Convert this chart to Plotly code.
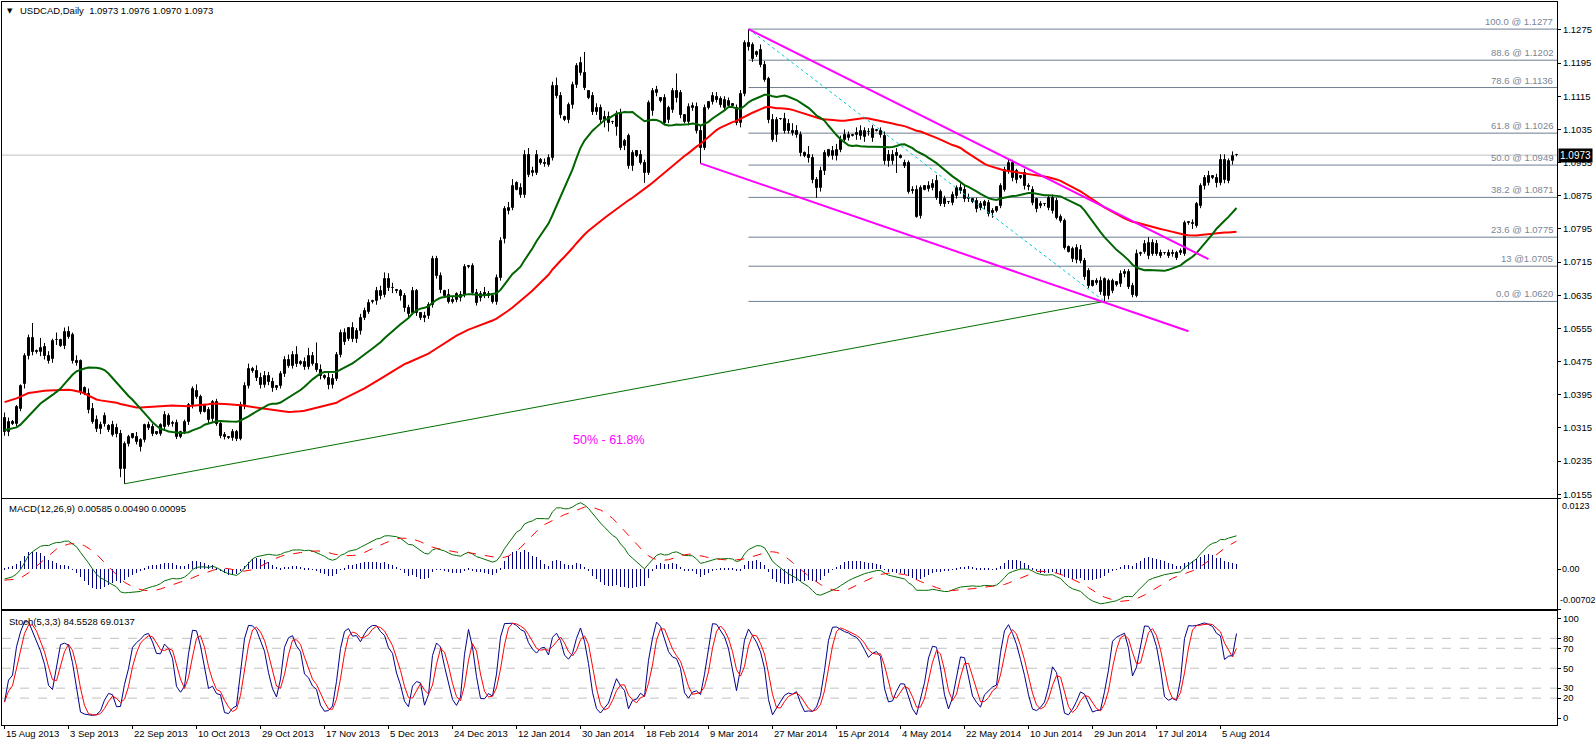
import numpy as np
import pandas as pd
import plotly.graph_objects as go

# ---------------- data (prices in pips above 1.0000) ----------------
open_p = [
    340, 305, 330, 325, 361, 421, 489, 531, 500, 497, 509, 489, 481, 527, 527, 513, 547, 539,
    477, 477, 412, 397, 361, 335, 313, 325, 320, 321, 315, 300, 216, 276, 300, 294, 268, 285,
    321, 317, 305, 300, 317, 343, 325, 327, 292, 305, 329, 369, 405, 389, 369, 357, 337, 377,
    325, 298, 292, 290, 305, 289, 369, 417, 457, 452, 435, 418, 440, 425, 410, 415, 445, 478,
    465, 490, 470, 474, 462, 488, 470, 455, 440, 436, 418, 432, 490, 544, 529, 555, 529, 549,
    581, 595, 619, 621, 644, 636, 675, 653, 648, 644, 633, 603, 593, 644, 592, 579, 584, 611,
    722, 682, 645, 636, 624, 624, 628, 636, 702, 706, 641, 629, 641, 637, 633, 619, 677, 770,
    838, 846, 906, 894, 878, 974, 930, 930, 962, 955, 950, 966, 1139, 1115, 1066, 1058, 1094, 1143,
    1171, 1171, 1127, 1115, 1086, 1086, 1058, 1066, 1052, 1040, 1074, 994, 1018, 946, 982, 974, 954, 930,
    1080, 1123, 1111, 1111, 1058, 1082, 1127, 1123, 1070, 1054, 1086, 1090, 1030, 990, 1086, 1100, 1113, 1108,
    1086, 1092, 1092, 1086, 1050, 1121, 1244, 1239, 1214, 1227, 1191, 1156, 1058, 1022, 1060, 1061, 1049, 1030,
    1032, 1022, 978, 974, 966, 912, 894, 934, 970, 970, 970, 986, 1010, 1014, 1020, 1022, 1018, 1017,
    1028, 1014, 1032, 1032, 1018, 974, 958, 978, 972, 954, 954, 888, 890, 826, 890, 898, 894, 910,
    884, 866, 859, 858, 874, 894, 890, 866, 868, 862, 854, 850, 858, 839, 838, 850, 890, 934,
    954, 934, 918, 930, 898, 890, 866, 850, 854, 846, 838, 862, 824, 814, 752, 722, 720, 718,
    718, 694, 670, 670, 670, 634, 634, 646, 660, 662, 686, 690, 658, 634, 734, 740, 730, 762,
    758, 738, 736, 738, 738, 738, 738, 734, 810, 810, 802, 850, 898, 906, 918, 918, 906, 962,
    910, 958, 973,
]
high_p = [
    352, 340, 334, 370, 420, 495, 540, 568, 504, 532, 520, 500, 530, 545, 530, 557, 560, 545,
    490, 480, 415, 410, 375, 345, 330, 352, 324, 332, 325, 310, 282, 298, 302, 305, 290, 325,
    330, 325, 307, 326, 355, 350, 332, 335, 308, 335, 375, 415, 420, 395, 372, 365, 382, 385,
    330, 305, 295, 312, 310, 378, 425, 470, 462, 466, 448, 452, 450, 436, 418, 452, 488, 492,
    500, 512, 478, 485, 508, 498, 521, 468, 444, 448, 445, 498, 552, 555, 558, 570, 556, 590,
    605, 625, 624, 655, 658, 690, 688, 665, 650, 650, 640, 612, 655, 650, 594, 595, 618, 730,
    730, 690, 648, 650, 632, 642, 645, 710, 708, 712, 650, 645, 655, 645, 636, 685, 775, 850,
    860, 915, 910, 905, 985, 990, 945, 985, 966, 965, 975, 1150, 1160, 1125, 1068, 1100, 1150, 1195,
    1210, 1222, 1130, 1125, 1098, 1095, 1080, 1078, 1056, 1080, 1085, 1012, 1025, 985, 985, 985, 962, 1105,
    1135, 1140, 1113, 1120, 1092, 1135, 1170, 1130, 1072, 1098, 1100, 1100, 1045, 1095, 1102, 1125, 1125, 1115,
    1115, 1112, 1098, 1095, 1130, 1250, 1277, 1245, 1225, 1240, 1200, 1162, 1072, 1065, 1062, 1075, 1060, 1050,
    1045, 1030, 982, 995, 975, 920, 945, 985, 988, 995, 1000, 1020, 1035, 1030, 1024, 1040, 1045, 1040,
    1038, 1045, 1035, 1040, 1030, 985, 985, 990, 975, 962, 960, 898, 900, 900, 900, 910, 915, 925,
    890, 875, 862, 885, 900, 905, 900, 880, 870, 870, 862, 865, 865, 845, 850, 905, 945, 962,
    962, 940, 924, 940, 905, 898, 870, 862, 856, 875, 878, 870, 830, 820, 755, 752, 758, 756,
    725, 700, 672, 676, 680, 678, 675, 675, 668, 695, 698, 698, 665, 745, 740, 768, 775, 770,
    768, 745, 738, 745, 745, 742, 748, 815, 812, 818, 860, 905, 925, 935, 924, 928, 975, 975,
    965, 982, 976,
]
low_p = [
    296, 295, 322, 318, 355, 410, 480, 490, 494, 488, 480, 470, 472, 515, 510, 505, 530, 470,
    465, 395, 394, 350, 325, 305, 300, 318, 305, 294, 292, 196, 180, 270, 289, 275, 258, 280,
    310, 295, 298, 296, 312, 318, 318, 288, 290, 300, 322, 362, 385, 348, 352, 325, 330, 320,
    290, 287, 288, 284, 283, 285, 360, 410, 448, 428, 410, 412, 418, 402, 406, 410, 438, 460,
    458, 462, 466, 455, 456, 465, 450, 432, 432, 408, 410, 428, 485, 515, 525, 522, 520, 540,
    575, 590, 615, 612, 625, 630, 645, 640, 640, 622, 595, 580, 588, 585, 575, 570, 578, 605,
    675, 640, 630, 615, 615, 618, 620, 630, 700, 635, 610, 620, 628, 628, 615, 612, 670, 760,
    830, 840, 888, 870, 870, 920, 922, 925, 950, 945, 945, 960, 1110, 1062, 1055, 1050, 1085, 1135,
    1165, 1130, 1108, 1070, 1070, 1050, 1040, 1030, 1048, 1020, 985, 985, 940, 935, 968, 950, 906, 925,
    1068, 1115, 1100, 1045, 1050, 1075, 1100, 1062, 1050, 1045, 1080, 1025, 953, 985, 1083, 1095, 1100, 1088,
    1080, 1088, 1090, 1045, 1040, 1115, 1225, 1198, 1210, 1185, 1150, 1050, 1005, 1005, 1058, 1025, 1025, 1020,
    1015, 970, 968, 955, 905, 870, 885, 925, 968, 962, 960, 980, 1005, 1008, 1018, 1010, 1010, 1005,
    1020, 1005, 1030, 1015, 950, 945, 950, 930, 965, 942, 880, 880, 822, 820, 888, 885, 888, 865,
    850, 848, 855, 852, 868, 880, 860, 860, 857, 835, 840, 842, 825, 822, 835, 845, 885, 928,
    910, 905, 915, 890, 888, 852, 835, 845, 850, 840, 832, 818, 810, 745, 738, 715, 712, 712,
    672, 652, 656, 660, 636, 620, 625, 640, 656, 655, 678, 650, 630, 630, 730, 735, 722, 730,
    730, 725, 733, 725, 728, 720, 732, 730, 805, 795, 798, 845, 890, 900, 915, 895, 900, 905,
    905, 950, 970,
]
close_p = [
    305, 329, 325, 366, 416, 489, 531, 497, 497, 507, 489, 477, 525, 528, 513, 547, 535, 477,
    472, 402, 397, 357, 329, 313, 321, 343, 310, 298, 300, 216, 276, 292, 290, 281, 285, 321,
    314, 300, 300, 321, 347, 321, 325, 292, 305, 329, 369, 409, 389, 353, 354, 333, 377, 325,
    295, 292, 290, 305, 289, 369, 417, 457, 452, 435, 418, 440, 425, 410, 415, 445, 478, 465,
    490, 470, 474, 462, 488, 470, 455, 440, 436, 418, 432, 490, 544, 521, 555, 529, 549, 581,
    597, 616, 621, 644, 633, 675, 653, 652, 644, 633, 603, 589, 644, 593, 579, 584, 611, 722,
    682, 648, 633, 619, 619, 637, 636, 703, 706, 641, 617, 639, 633, 633, 619, 677, 766, 842,
    846, 898, 890, 878, 974, 926, 934, 974, 954, 952, 966, 1139, 1115, 1070, 1058, 1094, 1143, 1187,
    1195, 1135, 1111, 1078, 1078, 1058, 1066, 1050, 1054, 1070, 990, 1006, 946, 978, 970, 954, 930, 1099,
    1127, 1129, 1103, 1050, 1086, 1127, 1110, 1070, 1054, 1090, 1092, 1030, 990, 1086, 1100, 1116, 1107, 1095,
    1107, 1103, 1096, 1050, 1121, 1243, 1235, 1204, 1222, 1191, 1155, 1058, 1010, 1058, 1061, 1030, 1030, 1026,
    1022, 978, 970, 966, 914, 894, 934, 978, 985, 982, 985, 1010, 1022, 1022, 1022, 1026, 1030, 1030,
    1028, 1035, 1032, 1022, 958, 958, 974, 970, 966, 946, 884, 886, 824, 894, 898, 892, 904, 870,
    854, 854, 859, 878, 894, 886, 866, 870, 859, 842, 846, 859, 832, 834, 848, 898, 938, 954,
    918, 914, 922, 898, 895, 858, 842, 854, 854, 870, 870, 822, 814, 750, 740, 746, 748, 745,
    678, 658, 658, 664, 642, 674, 670, 670, 666, 686, 690, 654, 635, 734, 738, 758, 760, 734,
    734, 730, 736, 730, 734, 726, 742, 810, 810, 806, 854, 898, 918, 922, 922, 906, 962, 912,
    958, 970, 973,
]
# closes before the first visible bar (used only to warm up the indicators)
pre_close = [
    340, 350, 365, 340, 300, 258, 255, 215, 218, 195, 180, 168, 170, 180, 210, 345, 420, 398,
    400, 455, 460, 500, 525, 515, 515, 500, 530, 545, 555, 620, 615, 590, 570, 440, 405, 385,
    388, 395, 365, 410, 415, 390, 385, 305, 275, 300, 295, 280, 280, 285, 290, 270, 320, 345,
    345, 370, 372, 350, 305, 275, 278, 295, 315, 340,
]

x_labels = ["15 Aug 2013", "3 Sep 2013", "22 Sep 2013", "10 Oct 2013", "29 Oct 2013",
            "17 Nov 2013", "5 Dec 2013", "24 Dec 2013", "12 Jan 2014", "30 Jan 2014",
            "18 Feb 2014", "9 Mar 2014", "27 Mar 2014", "15 Apr 2014", "4 May 2014",
            "22 May 2014", "10 Jun 2014", "29 Jun 2014", "17 Jul 2014", "5 Aug 2014"]
bars_per_label = 16

price_ticks = [1.1275, 1.1195, 1.1115, 1.1035, 1.0955, 1.0875, 1.0795, 1.0715, 1.0635,
               1.0555, 1.0475, 1.0395, 1.0315, 1.0235, 1.0155]
macd_ticks = [0.0123, 0.0, -0.00702]
macd_ticktext = ["0.0123", "0.00", "-0.00702"]
stoch_ticks = [100, 80, 70, 50, 30, 20, 0]
stoch_levels = [80, 70, 50, 30, 20]

fib_pct = ["100.0", "88.6", "78.6", "61.8", "50.0", "38.2", "23.6", "13", "0.0"]
fib_price = [1.1277, 1.1202, 1.1136, 1.1026, 1.0949, 1.0871, 1.0775, 1.0705, 1.0620]
fib_start_bar = 186
last_price = 1.0973

# drawn objects: (bar index, price)
tl_upper_bar, tl_upper_px = [186, 301], [1.1277, 1.0722]
tl_lower_bar, tl_lower_px = [174, 296], [1.0953, 1.0548]
fib_diag_bar, fib_diag_px = [186, 275], [1.1277, 1.0620]
support_bar, support_px = [30, 275], [1.0180, 1.0620]
note_bar, note_px, note_text = 151, 1.0286, "50% - 61.8%"

header = "USDCAD,Daily  1.0973 1.0976 1.0970 1.0973"
macd_title = "MACD(12,26,9) 0.00585 0.00490 0.00095"
stoch_title = "Stoch(5,3,3) 84.5528 69.0137"

# ---------------- indicators ----------------
def to_price(v):
    return 1.0 + np.asarray(v, dtype=float) / 10000.0

o, h, l, c = (to_price(a) for a in (open_p, high_p, low_p, close_p))
n = len(c)
xi = np.arange(n)

allc = pd.Series(np.concatenate([to_price(pre_close), c]))
ma_fast = allc.rolling(21).mean().values[-n:]
ma_slow = allc.rolling(55).mean().values[-n:]
ema12 = allc.ewm(span=12, adjust=False).mean()
ema26 = allc.ewm(span=26, adjust=False).mean()
macd_all = ema12 - ema26
sig_all = macd_all.rolling(9).mean()
macd = macd_all.values[-n:]
sig = sig_all.values[-n:]
hist = macd - sig

hs, ls, cs = pd.Series(h), pd.Series(l), pd.Series(c)
ll = ls.rolling(5, min_periods=1).min()
hh = hs.rolling(5, min_periods=1).max()
k = 100 * (cs - ll).rolling(3, min_periods=1).sum() / (hh - ll).rolling(3, min_periods=1).sum()
d = k.rolling(3, min_periods=1).mean()

# ---------------- layout geometry ----------------
W, H = 1596, 745
FONT = "Liberation Sans, Arial, sans-serif"
FS = 9.5
xdom = [2 / W, 1557 / W]
xr = [-0.625, 388.125]
dom_main = [1 - 499 / H, 1 - 2 / H]
dom_macd = [1 - 611 / H, 1 - 500 / H]
dom_sto = [1 - 727 / H, 1 - 613 / H]

fig = go.Figure()

# candles: wicks then bodies
wx, wy = [], []
for i in range(n):
    wx += [i, i, None]
    wy += [l[i], h[i], None]
fig.add_trace(go.Scatter(x=wx, y=wy, mode="lines", line=dict(color="black", width=1),
                         xaxis="x", yaxis="y", showlegend=False, hoverinfo="skip"))
body_base = np.minimum(o, c)
body_len = np.maximum(np.abs(c - o), 0.00006)
body_col = np.where(c >= o, "white", "black")
fig.add_trace(go.Bar(x=xi, y=body_len, base=body_base, width=0.5,
                     marker=dict(color=body_col, line=dict(color="black", width=1)),
                     xaxis="x", yaxis="y", showlegend=False, hoverinfo="skip"))

fig.add_trace(go.Scatter(x=xi, y=ma_slow, mode="lines", line=dict(color="#ff0000", width=2),
                         xaxis="x", yaxis="y", showlegend=False, hoverinfo="skip"))
fig.add_trace(go.Scatter(x=xi, y=ma_fast, mode="lines", line=dict(color="#006400", width=2),
                         xaxis="x", yaxis="y", showlegend=False, hoverinfo="skip"))

for bx, py, col, wd, dash in [
    (support_bar, support_px, "#007000", 1, "solid"),
    (fib_diag_bar, fib_diag_px, "#00c8d0", 1, "dot"),
    (tl_upper_bar, tl_upper_px, "#ff00ff", 2, "solid"),
    (tl_lower_bar, tl_lower_px, "#ff00ff", 2, "solid"),
]:
    fig.add_trace(go.Scatter(x=bx, y=py, mode="lines", line=dict(color=col, width=wd, dash=dash),
                             xaxis="x", yaxis="y", showlegend=False, hoverinfo="skip"))

# MACD panel
fig.add_trace(go.Bar(x=xi, y=hist, width=0.25, marker=dict(color="#000080", line=dict(width=0)),
                     xaxis="x2", yaxis="y2", showlegend=False, hoverinfo="skip"))
fig.add_trace(go.Scatter(x=xi, y=macd, mode="lines", line=dict(color="#007000", width=1),
                         xaxis="x2", yaxis="y2", showlegend=False, hoverinfo="skip"))
fig.add_trace(go.Scatter(x=xi, y=sig, mode="lines", line=dict(color="#ff0000", width=1, dash="dash"),
                         xaxis="x2", yaxis="y2", showlegend=False, hoverinfo="skip"))

# Stochastic panel
fig.add_trace(go.Scatter(x=xi, y=k, mode="lines", line=dict(color="#00008b", width=1),
                         xaxis="x3", yaxis="y3", showlegend=False, hoverinfo="skip"))
fig.add_trace(go.Scatter(x=xi, y=d, mode="lines", line=dict(color="#ff0000", width=1),
                         xaxis="x3", yaxis="y3", showlegend=False, hoverinfo="skip"))

shapes = []
shapes.append(dict(type="line", xref="x domain", yref="y", x0=0, x1=1, y0=last_price, y1=last_price,
                   line=dict(color="#c0c0c0", width=1), layer="below"))
for fp in fib_price:
    shapes.append(dict(type="line", xref="x", yref="y", x0=fib_start_bar, x1=xr[1], y0=fp, y1=fp,
                       line=dict(color="#6f7f90", width=1), layer="below"))
for lv in stoch_levels:
    shapes.append(dict(type="line", xref="x3 domain", yref="y3", x0=0, x1=1, y0=lv, y1=lv,
                       line=dict(color="#c0c0c0", width=1, dash="dash"), layer="below"))

ann = []
tf = dict(family=FONT, size=FS, color="black")
ann.append(dict(text="▼", x=10 / W, y=1 - 11 / H, xref="paper", yref="paper", showarrow=False,
                xanchor="center", yanchor="middle", font=dict(family="DejaVu Sans", size=7, color="black")))
ann.append(dict(text=header, x=18 / W, y=1 - 11 / H, xref="paper", yref="paper", showarrow=False,
                xanchor="left", yanchor="middle", font=tf))
ann.append(dict(text=macd_title, x=7 / W, y=1 - 510 / H, xref="paper", yref="paper", showarrow=False,
                xanchor="left", yanchor="middle", font=tf))
ann.append(dict(text=stoch_title, x=7 / W, y=1 - 623 / H, xref="paper", yref="paper", showarrow=False,
                xanchor="left", yanchor="middle", font=tf))
for pct, fp in zip(fib_pct, fib_price):
    sep = " @" if pct == "13" else " @ "
    ann.append(dict(text=f"{pct}{sep}{fp:.4f}", x=1555 / W, y=fp, xref="paper", yref="y",
                    showarrow=False, xanchor="right", yanchor="bottom", yshift=0,
                    font=dict(family=FONT, size=FS, color="#7a8696")))
ann.append(dict(text=f"{last_price:.4f}", x=1558 / W, y=last_price, xref="paper", yref="y",
                showarrow=False, xanchor="left", yanchor="middle", bgcolor="black", borderpad=1,
                font=dict(family=FONT, size=FS + 0.5, color="white")))
ann.append(dict(text=note_text, x=note_bar, y=note_px, xref="x", yref="y", showarrow=False,
                xanchor="center", yanchor="middle", font=dict(family=FONT, size=12.5, color="#ff00ff")))
for i, lab in enumerate(x_labels):
    ann.append(dict(text=lab, x=i * bars_per_label, y=1 - 735 / H, xref="x3", yref="paper",
                    showarrow=False, xanchor="left", yanchor="middle", xshift=-1, font=tf))
mf = dict(family=FONT, size=9, color="black")
ann.append(dict(text=macd_ticktext[0], x=1560 / W, y=macd_ticks[0], xref="paper", yref="y2",
                showarrow=False, xanchor="left", yanchor="top", font=mf))
ann.append(dict(text=macd_ticktext[1], x=1560 / W, y=macd_ticks[1], xref="paper", yref="y2",
                showarrow=False, xanchor="left", yanchor="middle", font=mf))
ann.append(dict(text=macd_ticktext[2], x=1558 / W, y=macd_ticks[2], xref="paper", yref="y2",
                showarrow=False, xanchor="left", yanchor="bottom", yshift=2, font=mf))

ax_common = dict(range=xr, domain=xdom, showgrid=False, zeroline=False, showline=True, mirror=True,
                 linecolor="black", linewidth=1, fixedrange=True)
fig.update_layout(
    width=W, height=H, margin=dict(l=0, r=0, t=0, b=0),
    paper_bgcolor="white", plot_bgcolor="white", showlegend=False,
    bargap=0, barmode="overlay",
    font=dict(family=FONT, size=FS, color="black"),
    xaxis=dict(anchor="y", showticklabels=False, ticks="", **ax_common),
    xaxis2=dict(anchor="y2", showticklabels=False, ticks="", matches="x", **ax_common),
    xaxis3=dict(anchor="y3", showticklabels=False, ticks="outside", ticklen=3, tickcolor="black",
                tickvals=[i * bars_per_label for i in range(len(x_labels))], matches="x", **ax_common),
    yaxis=dict(anchor="x", domain=dom_main, range=[1.01466, 1.13424], side="right",
               tickvals=price_ticks, ticktext=[f"{t:.4f}" for t in price_ticks],
               ticks="outside", ticklen=3, tickcolor="black", tickfont=tf,
               showgrid=False, zeroline=False, showline=True, mirror=True, linecolor="black", linewidth=1),
    yaxis2=dict(anchor="x2", domain=dom_macd, range=[-0.00702, 0.0123], side="right",
                tickvals=macd_ticks, ticktext=["", "", ""], ticks="outside", ticklen=3, tickcolor="black",
                showgrid=False, zeroline=False, showline=True, mirror=True, linecolor="black", linewidth=1),
    yaxis3=dict(anchor="x3", domain=dom_sto, range=[-7, 107], side="right",
                tickvals=stoch_ticks, ticktext=[str(t) for t in stoch_ticks],
                ticks="outside", ticklen=3, tickcolor="black", tickfont=tf,
                showgrid=False, zeroline=False, showline=True, mirror=True, linecolor="black", linewidth=1),
    shapes=shapes, annotations=ann,
)

fig.write_html("out.html")
